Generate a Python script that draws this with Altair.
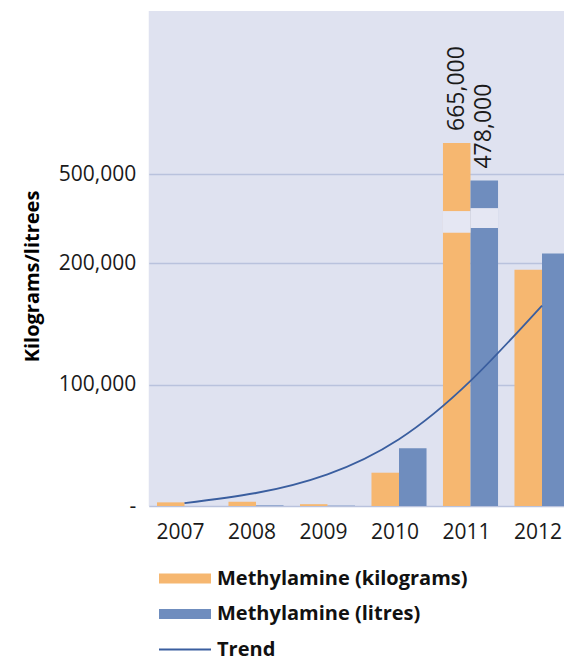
import altair as alt
import pandas as pd

# ---- data ----
years = ["2007", "2008", "2009", "2010", "2011", "2012"]
kilograms = [3000, 3500, 1500, 27400, 665000, 194500]
litres = [0, 500, 300, 47500, 478000, 232000]
trend = [2300, 10700, 26100, 55000, 103000, 165000]
series_names = ["Methylamine (kilograms)", "Methylamine (litres)", "Trend"]
series_colors = ["#F6B770", "#6F8DBE", "#3A5E9F"]

label_year = "2011"
label_values = [665000, 478000]
label_texts = ["665,000", "478,000"]

# axis break (in value units) on the 2011 bars
break_lo = [302000, 318000]
break_hi = [375000, 385000]

y_ticks = [0, 100000, 200000, 500000]
# broken (piecewise) y axis
y_domain = [0, 200000, 500000, 665000, 1367000]
y_range = [495, 252, 163, 132, 0]

FONT = "Open Sans"

bars_df = pd.DataFrame(
    {
        "year": years * 2,
        "series": [series_names[0]] * len(years) + [series_names[1]] * len(years),
        "value": kilograms + litres,
    }
)
trend_df = pd.DataFrame({"year": years, "series": series_names[2], "value": trend})
labels_df = pd.DataFrame(
    {
        "year": [label_year] * 2,
        "series": series_names[:2],
        "value": label_values,
        "text": label_texts,
    }
)
break_df = pd.DataFrame(
    {
        "year": [label_year] * 2,
        "series": series_names[:2],
        "lo": break_lo,
        "hi": break_hi,
    }
)

x_enc = alt.X(
    "year:N",
    sort=years,
    scale=alt.Scale(paddingInner=0.23, paddingOuter=0.115),
    axis=alt.Axis(
        title=None,
        domain=False,
        ticks=False,
        labelAngle=0,
        labelFont=FONT,
        labelFontSize=21,
        labelColor="#1a1a1a",
        labelPadding=15,
        labelOffset=-4,
        grid=False,
    ),
)
y_scale = alt.Scale(domain=y_domain, range=y_range, nice=False, zero=False)
xoff = alt.XOffset(
    "series:N",
    sort=series_names[:2],
    scale=alt.Scale(domain=series_names[:2], paddingInner=0, paddingOuter=0),
)

color_scale = alt.Scale(domain=series_names, range=series_colors)

legend_cfg = alt.Legend(
    title=None,
    orient="none",
    legendX=26.25,
    legendY=557.5,
    direction="vertical",
    padding=0,
    symbolSize=100,
    symbolType=alt.ExprRef(
        expr="datum.value === 'Trend' ? 'M-5.2,-0.18H5.2V0.18H-5.2Z' : 'M-5.2,-1H5.2V1H-5.2Z'"
    ),
    symbolStrokeWidth=0,
    symbolOpacity=1,
    labelFont=FONT,
    labelFontSize=20,
    labelFontWeight="bold",
    labelColor="#111111",
    labelOffset=22,
    rowPadding=15.5,
    labelLimit=400,
)

y_axis = alt.Axis(
    title="Kilograms/litrees",
    values=y_ticks,
    labelExpr="datum.value == 0 ? '-\u2007\u2009' : format(datum.value, ',')",
    domain=False,
    ticks=False,
    labelFont=FONT,
    labelFontSize=21,
    labelColor="#1a1a1a",
    labelPadding=13,
    grid=True,
    gridColor="#B9C2DD",
    gridWidth=1.6,
    titleFont=FONT,
    titleFontSize=20,
    titleFontWeight="bold",
    titleColor="#000000",
    titleAngle=270,
    titleAlign="center",
    titleBaseline="middle",
    titleX=-116,
    titleY=265,
)

bars = alt.Chart(bars_df).mark_bar().encode(
    x=x_enc,
    xOffset=xoff,
    y=alt.Y("value:Q", scale=y_scale, axis=y_axis),
    color=alt.Color("series:N", scale=color_scale, legend=legend_cfg),
)

gap = alt.Chart(break_df).mark_bar(color="#E5E7F3").encode(
    x=alt.X("year:N", sort=years),
    xOffset=alt.XOffset("series:N", sort=series_names[:2]),
    y=alt.Y("lo:Q"),
    y2="hi:Q",
)

line = alt.Chart(trend_df).mark_line(interpolate="natural", strokeWidth=1.8).encode(
    x=alt.X("year:N", sort=years),
    y=alt.Y("value:Q"),
    color=alt.Color("series:N", legend=legend_cfg),
)

labels = alt.Chart(labels_df).mark_text(
    angle=270,
    align="left",
    baseline="middle",
    dx=12,
    font=FONT,
    fontSize=23,
    color="#1a1a1a",
).encode(
    x=alt.X("year:N", sort=years),
    xOffset=alt.XOffset("series:N", sort=series_names[:2]),
    y=alt.Y("value:Q"),
    text="text:N",
)

chart = (
    alt.layer(bars, gap, line, labels)
    .properties(
        width=429,
        height=495,
        autosize=alt.AutoSizeParams(type="none"),
        padding={"left": 140.75, "top": 3, "right": -13.75, "bottom": 155},
        background="white",
    )
    .configure_view(fill="#DFE2F0", stroke=None)
)

chart.save("out.html", embed_options={"renderer": "svg", "actions": False})
